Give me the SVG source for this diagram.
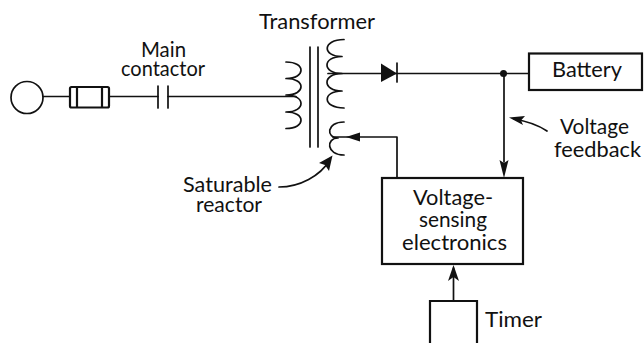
<svg xmlns="http://www.w3.org/2000/svg" width="644" height="345" viewBox="0 0 644 345">
<style>
.w{fill:none;stroke:#111;stroke-width:1.7;stroke-linecap:round;stroke-linejoin:round}
.f{fill:none;stroke:#111;stroke-width:2.2;stroke-linejoin:round}
.b{fill:#fff;stroke:#111;stroke-width:2.2}
.o{fill:none;stroke:#111;stroke-width:2.2}
.h{fill:#111;stroke:none}
text{font-family:"Lato","Open Sans","Liberation Sans",sans-serif;font-size:20.500px;fill:#111}
</style>
<rect width="644" height="345" fill="#fff"/>
<g id="connectors">
<path class="w" d="M43 96.500H70M109 96.500H158M168 96.500H296"/>
<path class="w" d="M328 73.500H529"/>
<path class="w" d="M504 73.500V162"/>
<path class="h" d="M504 178L499.500 160L504 163L508.500 160Z"/>
<path class="w" d="M333 137H397V178"/>
<path class="h" d="M346 137L360 132.500L360 141.500Z"/>
<path class="w" d="M453.500 301V268"/>
<path class="h" d="M453.500 265L459 281L453.500 277L448 281Z"/>
<circle class="h" cx="503.500" cy="73.500" r="3.500"/>
<path class="w" d="M279 187C300 187 320 176 330 160"/>
<path class="h" d="M332.500 155.500L329 171L325 165L319 163Z"/>
<path class="w" d="M547 131C538 125 526 121 514 119"/>
<path class="h" d="M509 117.500L525 116L521 120.500L523 125Z"/>
</g>
<g id="source"><circle class="w" cx="27" cy="97.500" r="16"/></g>
<g id="fuse">
<rect class="f" x="70" y="87" width="39" height="20.500" rx="1.500"/>
<path class="f" d="M77 87V107.500M102 87V107.500"/>
</g>
<g id="main-contactor">
<path class="w" d="M158 86V108M168 86V108"/>
<text x="141" y="57" textLength="45" lengthAdjust="spacingAndGlyphs">Main</text>
<text x="121" y="76" textLength="84" lengthAdjust="spacingAndGlyphs">contactor</text>
</g>
<g id="transformer">
<path class="w" d="M286 62C306 62 306 78.500 286 78.500M286 78.500C306 78.500 306 95 286 95M286 95C306 95 306 112 286 112M286 112C306 112 306 128.500 286 128.500"/>
<path class="w" d="M310 47V147M318 47V147"/>
<path class="w" d="M344 39.500C322 39.500 322 56.500 342 56.500C322 56.500 322 73.500 342 73.500C322 73.500 322 91 342 91C322 91 322 108 344 108"/>
<text x="259" y="29" textLength="116" lengthAdjust="spacingAndGlyphs">Transformer</text>
</g>
<g id="saturable-reactor">
<path class="w" d="M344 122C326 122 326 138 338 138C326 138 326 155 344 155"/>
<text x="183" y="192" textLength="89" lengthAdjust="spacingAndGlyphs">Saturable</text>
<text x="196" y="212" textLength="66" lengthAdjust="spacingAndGlyphs">reactor</text>
</g>
<g id="diode">
<path class="h" d="M381 63.500L397 73.500L381 82Z"/>
<path class="w" d="M397 63V82"/>
</g>
<g id="battery">
<rect class="b" x="529" y="53.500" width="113" height="36.500"/>
<text x="552" y="77" textLength="70" lengthAdjust="spacingAndGlyphs">Battery</text>
</g>
<g id="voltage-feedback">
<text x="560" y="134" textLength="69" lengthAdjust="spacingAndGlyphs">Voltage</text>
<text x="554" y="157" textLength="87" lengthAdjust="spacingAndGlyphs">feedback</text>
</g>
<g id="voltage-sensing-electronics">
<rect class="b" x="382" y="178" width="141" height="86"/>
<text x="413" y="205" textLength="80" lengthAdjust="spacingAndGlyphs">Voltage-</text>
<text x="419" y="227" textLength="68" lengthAdjust="spacingAndGlyphs">sensing</text>
<text x="402" y="250" textLength="105" lengthAdjust="spacingAndGlyphs">electronics</text>
</g>
<g id="timer">
<path class="o" d="M430 343V301H477V343"/>
<text x="485" y="327" textLength="57" lengthAdjust="spacingAndGlyphs">Timer</text>
</g>
</svg>
